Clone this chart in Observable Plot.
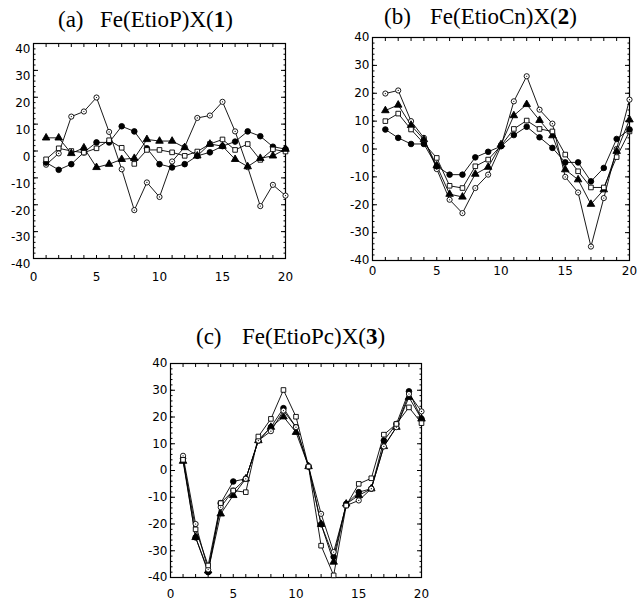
<!DOCTYPE html>
<html>
<head>
<meta charset="utf-8">
<script src="https://cdn.jsdelivr.net/npm/d3@7"></script>
<script src="https://cdn.jsdelivr.net/npm/@observablehq/plot@0.6"></script>
<style>
  html, body { margin: 0; padding: 0; background: #fff; }
  #root { position: relative; width: 638px; height: 602px; overflow: hidden; }
  .panel { position: absolute; }
  .title { position: absolute; font-family: "Liberation Serif", "Times New Roman", serif; font-size: 23px; white-space: pre; color: #000; line-height: 1; }
</style>
</head>
<body>
<div id="root"></div>
<script>
// ---------- data ----------
const xs = [1,2,3,4,5,6,7,8,9,10,11,12,13,14,15,16,17,18,19,20];
const xTickLabels = [0,5,10,15,20];
const yTickLabels = [40,30,20,10,0,-10,-20,-30,-40];
const xMinorTicks = [0,1,2,3,4,5,6,7,8,9,10,11,12,13,14,15,16,17,18,19,20];
const yMinorTicks = [-40,-38,-36,-34,-32,-30,-28,-26,-24,-22,-20,-18,-16,-14,-12,-10,-8,-6,-4,-2,0,2,4,6,8,10,12,14,16,18,20,22,24,26,28,30,32,34,36,38,40];

// panel (a) Fe(EtioP)X(1)
const aOpen     = [-5.1,-0.9,12.8,14.7,19.9,7.1,-6.8,-22,-11.7,-17.1,-3.9,1.5,12.3,13.2,18.3,7.3,-6,-20.5,-12.6,-16.6];
const aFilled   = [-4.3,-7.0,-4.9,-0.5,3.2,3.2,9.2,7.3,1.0,-4.9,-6.1,-4.9,-1.8,-0.5,1.8,3.5,7.3,5.5,1.6,0.7];
const aSquare   = [-3.1,1.0,0.0,-0.6,1.0,4.0,1.2,-4.8,0.4,0.4,-0.5,-1.8,-0.2,2.6,4.3,0.4,2.6,-3.3,0.6,-0.2];
const aTriangle = [4.9,4.9,-0.9,1.2,-6.1,-4.9,-3.1,-2.7,4.3,3.7,3.7,1.3,-1.8,2.6,1.8,-3.1,-5.8,-2.7,-1.8,0.7];

// panel (b) Fe(EtioCn)X(2)
const bOpen     = [19.9,21,10,4,-7.2,-18.2,-23,-14,-9.2,1,17.1,26.1,14.1,9.1,-10,-15.6,-35,-17.6,0,17.7];
const bTriangle = [13.8,15.8,8.5,3.4,-6,-16.2,-17.2,-9,-6.5,1.6,12,16,10.3,4.8,-7.4,-11,-19.8,-14.6,-0.8,10.5];
const bSquare   = [10,12.7,7,2,-3.2,-13.2,-14,-6.2,-3.8,1.2,7.2,10.2,7.2,6.3,-2,-8,-13.8,-13.8,-2.9,6.3];
const bFilled   = [7,4,1.8,1.8,-6.2,-9.2,-9.2,-3,-1,1,5,8,4.2,0.4,-4.8,-4.8,-11.6,-6.8,3.6,7];

// panel (c) Fe(EtioPc)X(3)
const cOpen     = [5.5,-20,-37,-13.7,-7.5,-3.1,11.2,14.7,22.4,16.2,1.5,-16.2,-30.5,-13.1,-11.2,-6.8,9,16.2,28.6,22.1];
const cFilled   = [4.5,-25,-38,-12.2,-4.1,-3.1,11.2,16.2,23.3,16.2,1.5,-20.1,-32.3,-12.5,-8.1,-6.8,11.2,17.4,29.6,19.3];
const cSquare   = [4,-22,-35.5,-12.2,-7.5,-8.1,12.7,19.3,30.1,20.1,1.5,-28.1,-39.2,-13.1,-5,-2.9,13.4,17.4,23.6,17.7];
const cTriangle = [3.5,-25,-37.5,-16.2,-9.3,-3.1,11.2,16.2,20.1,14.3,1.5,-20.1,-34.2,-12.5,-9.3,-6.8,9,16.2,27.4,19.3];

const panels = [
  {title: ["(a)", "Fe(EtioP)X(", "1", ")"], tag: 58, name: 100, titleY: 8,
   left: 0, top: 30, width: 300, height: 260, m: {l: 33, r: 15, t: 13, b: 32}, xPad: 14, yDy: 6,
   series: [
     {v: aOpen, sym: "circle", fill: "white", r: 2.6, open: true},
     {v: aFilled, sym: "circle", fill: "black", r: 2.8},
     {v: aSquare, sym: "square", fill: "white", r: 2.6},
     {v: aTriangle, sym: "triangle", fill: "black", r: 2.8}
   ]},
  {title: ["(b)", "Fe(EtioCn)X(", "2", ")"], tag: 384, name: 430, titleY: 5,
   left: 340, top: 25, width: 298, height: 265, m: {l: 32, r: 9, t: 12, b: 30}, xPad: 6, yDy: 0,
   series: [
     {v: bOpen, sym: "circle", fill: "white", r: 2.6, open: true},
     {v: bTriangle, sym: "triangle", fill: "black", r: 2.8},
     {v: bSquare, sym: "square", fill: "white", r: 2.6},
     {v: bFilled, sym: "circle", fill: "black", r: 2.8}
   ]},
  {title: ["(c)", "Fe(EtioPc)X(", "3", ")"], tag: 196, name: 242, titleY: 325,
   left: 130, top: 350, width: 300, height: 252, m: {l: 40, r: 9, t: 13, b: 25}, xPad: 12, yDy: 0,
   series: [
     {v: cTriangle, sym: "triangle", fill: "black", r: 2.8},
     {v: cFilled, sym: "circle", fill: "black", r: 2.8},
     {v: cOpen, sym: "circle", fill: "white", r: 2.6, open: true},
     {v: cSquare, sym: "square", fill: "white", r: 2.6}
   ]}
];

const root = document.getElementById("root");
const fmt = d => d < 0 ? "-" + Math.abs(d) : String(d);
const blank = () => "";

for (const p of panels) {
  const marks = [
    Plot.axisX(xMinorTicks, {anchor: "bottom", tickSize: -3, tickFormat: blank, label: null}),
    Plot.axisX(xMinorTicks, {anchor: "top", tickSize: -3, tickFormat: blank, label: null}),
    Plot.axisX(xTickLabels, {anchor: "bottom", tickSize: 0, tickPadding: p.xPad, tickFormat: fmt, label: null,
      fontSize: 12, fontFamily: "DejaVu Sans"}),
    Plot.axisY(yMinorTicks, {anchor: "left", tickSize: -2.5, tickFormat: blank, label: null}),
    Plot.axisY(yMinorTicks, {anchor: "right", tickSize: -2.5, tickFormat: blank, label: null}),
    Plot.axisY(yTickLabels, {anchor: "left", tickSize: -5, tickFormat: blank, label: null}),
    Plot.axisY(yTickLabels, {anchor: "right", tickSize: -5, tickFormat: blank, label: null}),
    Plot.axisY(yTickLabels, {anchor: "left", tickSize: 0, tickPadding: 3, tickFormat: fmt, label: null,
      fontSize: 12, fontFamily: "DejaVu Sans", dy: p.yDy}),
    Plot.frame({stroke: "black", strokeWidth: 1.2})
  ];
  for (const s of p.series) {
    const data = xs.map((x, i) => ({x, y: s.v[i]}));
    marks.push(Plot.line(data, {x: "x", y: "y", stroke: "black", strokeWidth: 0.9}));
  }
  for (const s of p.series) {
    const data = xs.map((x, i) => ({x, y: s.v[i]}));
    marks.push(Plot.dot(data, {x: "x", y: "y", symbol: s.sym, r: s.r, fill: s.fill, stroke: "black", strokeWidth: 0.9}));
    if (s.open) marks.push(Plot.dot(data, {x: "x", y: "y", r: 0.6, fill: "black"}));
  }
  const chart = Plot.plot({
    width: p.width, height: p.height,
    marginLeft: p.m.l, marginRight: p.m.r, marginTop: p.m.t, marginBottom: p.m.b,
    x: {domain: [0, 20], axis: null},
    y: {domain: [-40, 40], axis: null},
    style: {background: "transparent", color: "black"},
    marks
  });
  const div = document.createElement("div");
  div.className = "panel";
  div.style.left = p.left + "px";
  div.style.top = p.top + "px";
  div.appendChild(chart);
  root.appendChild(div);

  const tag = document.createElement("div");
  tag.className = "title";
  tag.style.left = p.tag + "px";
  tag.style.top = p.titleY + "px";
  tag.textContent = p.title[0];
  root.appendChild(tag);

  const name = document.createElement("div");
  name.className = "title";
  name.style.left = p.name + "px";
  name.style.top = p.titleY + "px";
  name.innerHTML = p.title[1] + "<b>" + p.title[2] + "</b>" + p.title[3];
  root.appendChild(name);
}
</script>
</body>
</html>
